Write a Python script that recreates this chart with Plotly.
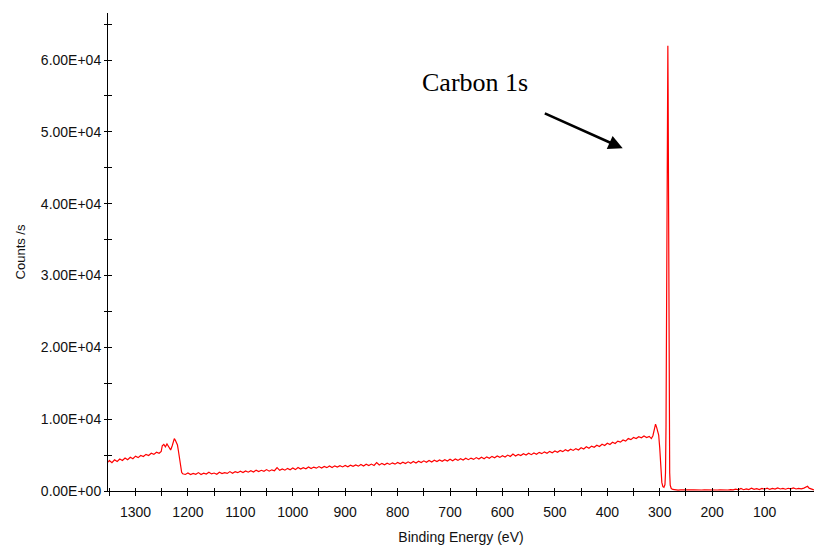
import plotly.graph_objects as go

# Binding energy (eV) and counts/s
energy_left = [1352, 1350, 1345, 1340, 1335, 1330, 1325, 1320, 1315, 1310,
               1305, 1300, 1295, 1290, 1285, 1280, 1275, 1270, 1265, 1260,
               1255, 1251, 1249, 1246, 1243, 1240, 1237, 1235, 1233, 1230,
               1228, 1226, 1224, 1222, 1220, 1218, 1216, 1214, 1212, 1210]
counts_left = [4000, 4250, 3950, 4350, 4100, 4450, 4250, 4600, 4350, 4700,
               4500, 4850, 4650, 4950, 4800, 5100, 4950, 5250, 5100, 5400,
               5250, 5500, 6300, 6500, 6150, 6550, 6200, 6000, 5700, 6300,
               7000, 7300, 7050, 6800, 6400, 5500, 4500, 3200, 2600, 2400]

energy_mid = [1205, 1200, 1195, 1190, 1185, 1180, 1175, 1170, 1165, 1160,
              1155, 1150, 1145, 1140, 1135, 1130, 1125, 1120, 1115, 1110,
              1105, 1100, 1095, 1090, 1085, 1080, 1075, 1070, 1065, 1060,
              1055, 1050, 1045, 1040, 1035, 1030, 1025, 1020, 1015, 1010,
              1005, 1000, 995, 990, 985, 980, 975, 970, 965, 960,
              955, 950, 945, 940, 935, 930, 925, 920, 915, 910,
              905, 900, 895, 890, 885, 880, 875, 870, 865, 860,
              855, 850, 845, 840, 835, 830, 825, 820, 815, 810,
              805, 800, 795, 790, 785, 780, 775, 770, 765, 760,
              755, 750, 745, 740, 735, 730, 725, 720, 715, 710,
              705, 700, 695, 690, 685, 680, 675, 670, 665, 660,
              655, 650, 645, 640, 635, 630, 625, 620, 615, 610,
              605, 600, 595, 590, 585, 580, 575, 570, 565, 560,
              555, 550, 545, 540, 535, 530, 525, 520, 515, 510,
              505, 500, 495, 490, 485, 480, 475, 470, 465, 460,
              455, 450, 445, 440, 435, 430, 425, 420, 415, 410,
              405, 400, 395, 390, 385, 380, 375, 370, 365, 360,
              355, 350, 345, 340, 335, 330, 325, 320]
counts_mid = [2300, 2500, 2280, 2450, 2320, 2560, 2300, 2480, 2350, 2600,
              2380, 2500, 2330, 2620, 2420, 2560, 2450, 2700, 2480, 2680,
              2550, 2750, 2560, 2800, 2620, 2820, 2650, 2900, 2700, 2880,
              2740, 2980, 2760, 2950, 2820, 3250, 2880, 3080, 2900, 3150,
              2960, 3200, 2980, 3280, 3050, 3250, 3100, 3350, 3120, 3330,
              3180, 3400, 3190, 3420, 3250, 3480, 3280, 3500, 3330, 3520,
              3350, 3560, 3380, 3600, 3430, 3620, 3460, 3700, 3480, 3720,
              3540, 3750, 3560, 3950, 3620, 3850, 3650, 3880, 3700, 3920,
              3740, 3980, 3780, 4020, 3820, 4060, 3870, 4100, 3900, 4150,
              3960, 4200, 4000, 4250, 4040, 4280, 4100, 4320, 4130, 4360,
              4170, 4420, 4200, 4450, 4260, 4500, 4300, 4550, 4360, 4580,
              4400, 4650, 4440, 4700, 4500, 4750, 4560, 4820, 4620, 4880,
              4680, 4920, 4740, 5000, 4800, 5150, 4880, 5100, 4940, 5180,
              5000, 5250, 5060, 5300, 5120, 5380, 5200, 5450, 5260, 5520,
              5330, 5580, 5400, 5650, 5480, 5750, 5560, 5820, 5650, 5900,
              5720, 6020, 5850, 6150, 5950, 6250, 6080, 6380, 6200, 6500,
              6330, 6650, 6480, 6780, 6620, 6950, 6800, 7100, 6950, 7300,
              7150, 7450, 7300, 7550, 7400, 7650, 7450, 7600]

energy_c1s = [316, 313, 310, 308, 306, 304, 302, 300, 298, 296,
              294, 292, 290, 289, 288, 287, 286, 285, 284.5, 284,
              283, 282, 281, 280, 278, 275]
counts_c1s = [7300, 7700, 8800, 9300, 8900, 8200, 7800, 6000, 3500, 1200,
              600, 500, 900, 2500, 9000, 25000, 48000, 61000, 62000, 56000,
              32000, 10000, 2500, 800, 350, 220]

energy_right = [270, 265, 260, 255, 250, 245, 240, 235, 230, 225,
                220, 215, 210, 205, 200, 195, 190, 185, 180, 175,
                170, 165, 160, 155, 150, 145, 140, 135, 130, 125,
                120, 115, 110, 105, 100, 95, 90, 85, 80, 75,
                70, 65, 60, 55, 50, 45, 40, 35, 30, 25,
                20, 18, 15, 10, 6]
counts_right = [150, 130, 170, 140, 160, 130, 150, 170, 140, 160,
                140, 170, 150, 130, 170, 150, 140, 170, 150, 180,
                140, 200, 150, 250, 160, 350, 180, 300, 200, 380,
                220, 320, 200, 360, 250, 400, 220, 350, 260, 420,
                280, 360, 250, 380, 300, 420, 280, 370, 300, 400,
                550, 650, 400, 200, 150]

y_tick_vals = [0, 10000, 20000, 30000, 40000, 50000, 60000]
y_tick_text = ["0.00E+00", "1.00E+04", "2.00E+04", "3.00E+04",
               "4.00E+04", "5.00E+04", "6.00E+04"]
y_minor_vals = [5000, 15000, 25000, 35000, 45000, 55000, 65000]

assert len(energy_left) == len(counts_left)
assert len(energy_mid) == len(counts_mid)
assert len(energy_c1s) == len(counts_c1s)
assert len(energy_right) == len(counts_right)

energy = energy_left + energy_mid + energy_c1s + energy_right
counts = counts_left + counts_mid + counts_c1s + counts_right

X_RANGE = [1352.5, 5.7]
Y_RANGE = [0, 66550]

fig = go.Figure()
fig.add_trace(go.Scatter(x=energy, y=counts, mode="lines",
                         line=dict(color="#FF0000", width=1.2),
                         showlegend=False, hoverinfo="skip"))

axis_font = dict(family="Liberation Sans, Arial, sans-serif", color="#111111")

fig.update_layout(
    width=814, height=545,
    margin=dict(l=108, r=0, t=13, b=54),
    paper_bgcolor="white", plot_bgcolor="white",
    font=axis_font,
    xaxis=dict(range=X_RANGE, showgrid=False, zeroline=False,
               showline=True, linecolor="black", linewidth=1,
               tickmode="linear", tick0=0, dtick=100,
               ticks="outside", ticklen=4, tickcolor="black", tickwidth=1,
               ticklabelstandoff=4,
               minor=dict(tickmode="linear", tick0=0, dtick=50,
                          ticks="outside", ticklen=4, tickcolor="black"),
               tickfont=dict(size=14, color="#111111"),
               title=dict(text="Binding Energy (eV)", standoff=14,
                          font=dict(size=14, color="#111111"))),
    yaxis=dict(range=Y_RANGE, showgrid=False, zeroline=False,
               showline=True, linecolor="black", linewidth=1,
               tickmode="array", tickvals=y_tick_vals, ticktext=y_tick_text,
               ticks="outside", ticklen=3, tickcolor="black", tickwidth=1,
               minor=dict(tickmode="array", tickvals=y_minor_vals,
                          ticks="outside", ticklen=3, tickcolor="black"),
               tickfont=dict(size=14, color="#111111"),
               title=dict(text="Counts /s", standoff=12,
                          font=dict(size=13, color="#111111"))),
    xaxis2=dict(range=X_RANGE, overlaying="x", anchor="y", side="bottom",
                showgrid=False, zeroline=False, showline=False,
                tickmode="linear", tick0=0, dtick=100,
                ticks="inside", ticklen=3, tickcolor="black",
                showticklabels=False,
                minor=dict(tickmode="linear", tick0=0, dtick=50,
                           ticks="inside", ticklen=3, tickcolor="black")),
    yaxis2=dict(range=Y_RANGE, overlaying="y", anchor="x", side="left",
                showgrid=False, zeroline=False, showline=False,
                tickmode="array", tickvals=y_tick_vals,
                ticks="inside", ticklen=4, tickcolor="black",
                showticklabels=False,
                minor=dict(tickmode="array", tickvals=y_minor_vals,
                           ticks="inside", ticklen=4, tickcolor="black")),
)

# invisible helper trace so the overlay axes are drawn
fig.add_trace(go.Scatter(x=[energy[0]], y=[counts[0]], xaxis="x2", yaxis="y2",
                         mode="markers", marker=dict(opacity=0),
                         showlegend=False, hoverinfo="skip"))

fig.add_annotation(x=653, y=56940, xref="x", yref="y", text="Carbon 1s",
                   showarrow=False,
                   font=dict(family="Liberation Serif, Times New Roman, serif",
                             size=26, color="black"))
fig.add_annotation(x=370.6, y=47710, xref="x", yref="y", text="",
                   showarrow=True, axref="pixel", ayref="pixel",
                   ax=-79.4, ay=-35.6, arrowhead=2, arrowsize=1.1,
                   arrowwidth=2.6, arrowcolor="black", standoff=0)

fig.write_html("out.html")
